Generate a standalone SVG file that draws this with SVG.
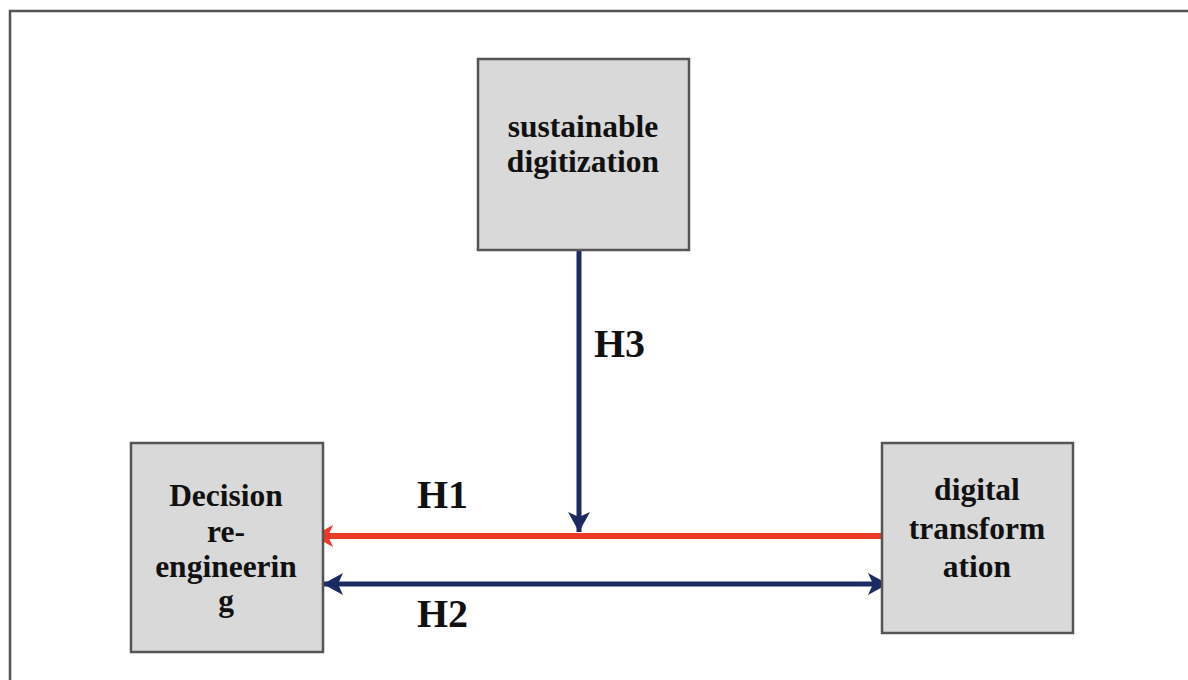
<svg xmlns="http://www.w3.org/2000/svg" width="1188" height="680" viewBox="0 0 1188 680">
<defs>
<style>
.box{fill:#d9d9d9;stroke:#555;stroke-width:2.5}
.t{font-family:"Liberation Serif","Times New Roman",serif;font-weight:bold;font-size:31.5px;fill:#111;text-anchor:middle}
.h{font-family:"Liberation Serif","Times New Roman",serif;font-weight:bold;font-size:40px;fill:#111}
.blue{stroke:#1b2a63;stroke-width:5;fill:none}
.red{stroke:#ee3a2a;stroke-width:6;fill:none}
</style>
<marker id="ab" viewBox="0 0 20 22" refX="20" refY="11" markerWidth="20" markerHeight="22" markerUnits="userSpaceOnUse" orient="auto-start-reverse"><path d="M0,0 L20,11 L0,22 L5,11 Z" fill="#1b2a63"/></marker>
<marker id="ar" viewBox="0 0 20 22" refX="20" refY="11" markerWidth="20" markerHeight="22" markerUnits="userSpaceOnUse" orient="auto"><path d="M0,0 L20,11 L0,22 L5,11 Z" fill="#ee3a2a"/></marker>
</defs>
<rect width="1188" height="680" fill="#fff"/>
<path d="M10,690 L10,11 L1195,11" fill="none" stroke="#555" stroke-width="2.5"/>
<g id="connectors">
<line class="blue" x1="579" y1="251" x2="579" y2="532" marker-end="url(#ab)"/>
<line class="red" x1="882" y1="536" x2="313" y2="536" marker-end="url(#ar)"/>
<line class="blue" x1="323" y1="584" x2="888" y2="584" marker-start="url(#ab)" marker-end="url(#ab)"/>
<text class="h" x="594" y="357">H3</text>
<text class="h" x="417" y="508">H1</text>
<text class="h" x="417" y="627">H2</text>
</g>
<g id="sustainable-digitization">
<rect class="box" x="478" y="59" width="211" height="191"/>
<text class="t" x="583" y="137">sustainable</text>
<text class="t" x="583" y="172">digitization</text>
</g>
<g id="decision-reengineering">
<rect class="box" x="131" y="443" width="192" height="209"/>
<text class="t" x="226" y="506">Decision</text>
<text class="t" x="226" y="542">re-</text>
<text class="t" x="226" y="577">engineerin</text>
<text class="t" x="226" y="611">g</text>
</g>
<g id="digital-transformation">
<rect class="box" x="882" y="443" width="191" height="190"/>
<text class="t" x="977" y="500">digital</text>
<text class="t" x="977" y="539">transform</text>
<text class="t" x="977" y="577">ation</text>
</g>
</svg>
